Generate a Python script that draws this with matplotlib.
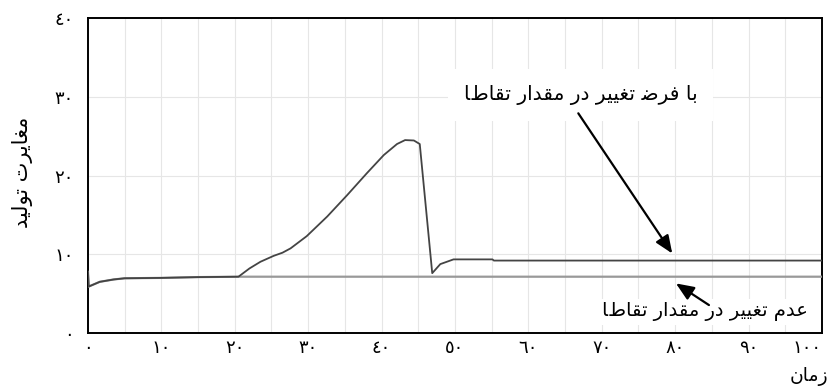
import numpy as np
import matplotlib
matplotlib.use("Agg")
import matplotlib.pyplot as plt
from matplotlib.ticker import MultipleLocator

# time axis and the two simulated series
t_change = [0, 0.1, 1.6, 3.5, 5, 10, 15, 20.5, 22, 23.5, 25.3, 26.5, 27.6, 29.8, 32.6, 35.3,
            38.0, 40.3, 42.1, 43.2, 44.4, 45.2, 46.9, 48, 49.8, 55.1, 55.3, 100]
v_change = [7.75, 5.9, 6.5, 6.8, 6.95, 7.0, 7.1, 7.15, 8.2, 9.05, 9.8, 10.2, 10.75, 12.3, 14.8, 17.5,
            20.3, 22.6, 24.0, 24.5, 24.45, 24.0, 7.6, 8.75, 9.35, 9.35, 9.2, 9.2]

t_base = [0, 0.1, 1.6, 3.5, 5, 10, 15, 20.5, 100]
v_base = [7.75, 5.9, 6.5, 6.8, 6.95, 7.0, 7.1, 7.15, 7.15]

x_ticks = [0, 10, 20, 30, 40, 50, 60, 70, 80, 90, 100]
y_ticks = [0, 10, 20, 30, 40]

label_change = "با فرض تغییر در مقدار تقاضا"
label_base = "عدم تغییر در مقدار تقاضا"
y_title = "مغایرت تولید"
x_title = "زمان"

# matplotlib does no arabic shaping, so do it by hand with presentation forms
# (isolated, final, initial, medial)
FORMS = {
    'ا': ('\uFE8D', '\uFE8E', None, None),
    'ب': ('\uFE8F', '\uFE90', '\uFE91', '\uFE92'),
    'ت': ('\uFE95', '\uFE96', '\uFE97', '\uFE98'),
    'د': ('\uFEA9', '\uFEAA', None, None),
    'ر': ('\uFEAD', '\uFEAE', None, None),
    'ز': ('\uFEAF', '\uFEB0', None, None),
    'ض': ('\uFEBF', '\uFEC0', '\uFEC1', '\uFEC2'),
    'ع': ('\uFEC9', '\uFECA', '\uFECB', '\uFECC'),
    'غ': ('\uFECD', '\uFECE', '\uFECF', '\uFED0'),
    'ف': ('\uFED1', '\uFED2', '\uFED3', '\uFED4'),
    'ق': ('\uFED5', '\uFED6', '\uFED7', '\uFED8'),
    'ل': ('\uFEDD', '\uFEDE', '\uFEDF', '\uFEE0'),
    'م': ('\uFEE1', '\uFEE2', '\uFEE3', '\uFEE4'),
    'ن': ('\uFEE5', '\uFEE6', '\uFEE7', '\uFEE8'),
    'و': ('\uFEED', '\uFEEE', None, None),
    'ی': ('\uFBFC', '\uFBFD', '\uFEF3', '\uFEF4'),
}


def shape(text):
    out = []
    for i, ch in enumerate(text):
        if ch not in FORMS:
            out.append(ch)
            continue
        prev = text[i - 1] if i > 0 else ''
        nxt = text[i + 1] if i < len(text) - 1 else ''
        join_prev = prev in FORMS and FORMS[prev][2] is not None
        join_next = nxt in FORMS and FORMS[ch][2] is not None
        iso, fin, ini, med = FORMS[ch]
        if join_prev and join_next:
            out.append(med)
        elif join_prev:
            out.append(fin)
        elif join_next:
            out.append(ini)
        else:
            out.append(iso)
    return ''.join(out)[::-1]


def arabic_digits(n):
    return ''.join(chr(0x0660 + int(c)) for c in str(n))


plt.rcParams['font.family'] = ['DejaVu Sans']

fig = plt.figure(figsize=(8.34, 3.91), dpi=100)
ax = fig.add_axes([0.1055, 0.1483, 0.8801, 0.8056])

ax.plot(t_base, v_base, color='#999999', lw=1.6, zorder=3)
ax.plot(t_change, v_change, color='#444444', lw=1.3, zorder=4)

ax.set_xlim(0, 100)
ax.set_ylim(0, 40)
ax.set_xticks(x_ticks)
ax.set_xticklabels([arabic_digits(v) for v in x_ticks], fontsize=13)
ax.xaxis.set_minor_locator(MultipleLocator(5))
ax.set_yticks(y_ticks)
ax.set_yticklabels([arabic_digits(v) for v in y_ticks], fontsize=13)
ax.tick_params(axis='both', which='both', length=0)
ax.tick_params(axis='x', pad=4)
ax.tick_params(axis='y', pad=10)
ax.get_xticklabels()[-1].set_horizontalalignment('right')

ax.grid(True, axis='x', which='both', color='#e6e6e6', lw=0.8, zorder=0)
ax.grid(True, axis='y', which='major', color='#e6e6e6', lw=0.8, zorder=0)
ax.set_axisbelow(True)
for s in ax.spines.values():
    s.set_linewidth(1.4)
    s.set_color('black')

# annotations
box = dict(boxstyle='square,pad=0.8', fc='white', ec='none')
ax.text(67.1, 30.2, shape(label_change), fontsize=14.5, ha='center', va='center',
        bbox=box, zorder=5)
ax.text(84.0, 2.67, shape(label_base), fontsize=14, ha='center', va='center',
        bbox=dict(boxstyle='square,pad=0.2', fc='white', ec='none'), zorder=5)
arrow = dict(arrowstyle='-|>,head_length=0.6,head_width=0.25', color='black',
             lw=1.6, mutation_scale=18, shrinkA=0, shrinkB=0)
ax.annotate('', xy=(79.6, 10.1), xytext=(66.8, 27.9), arrowprops=arrow, zorder=6)
ax.annotate('', xy=(80.1, 6.3), xytext=(84.6, 3.55), arrowprops=arrow, zorder=6)

# axis titles
fig.text(0.027, 0.56, shape(y_title), rotation=90, fontsize=15, ha='center', va='center')
fig.text(0.993, 0.036, shape(x_title), fontsize=13.5, ha='right', va='center')

fig.savefig('out.png', dpi=100)
